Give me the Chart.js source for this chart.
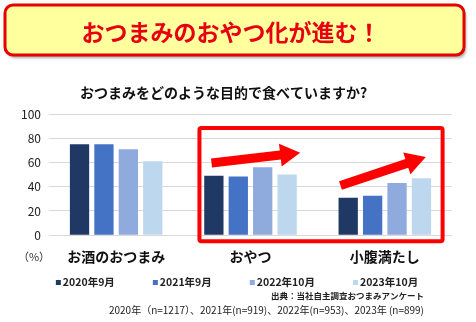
<!DOCTYPE html>
<html lang="ja">
<head>
<meta charset="utf-8">
<title>おつまみのおやつ化が進む！</title>
<script src="https://cdn.jsdelivr.net/npm/chart.js@4.4.1/dist/chart.umd.min.js"></script>
<style>
  html, body { margin: 0; padding: 0; background: #fff; }
  #wrap { position: relative; width: 476px; height: 322px; }
</style>
</head>
<body>
<div id="wrap"><canvas id="snackChart" width="476" height="322"></canvas></div>
<script>
// おつまみを食べる目的（調査年別, %）
const categories = ['お酒のおつまみ', 'おやつ', '小腹満たし'];
const seriesLabels = ['2020年9月', '2021年9月', '2022年10月', '2023年10月'];
const values2020 = [75, 49, 31];
const values2021 = [75, 48.5, 32.5];
const values2022 = [71, 56, 43];
const values2023 = [61, 50, 47];
const seriesColors = ['#203864', '#4472C4', '#8FAADC', '#BDD7EE'];

const headline = 'おつまみのおやつ化が進む！';
const question = 'おつまみをどのような目的で食べていますか?';
const sourceNote = '出典：当社自主調査おつまみアンケート';
const sampleNote = '2020年（n=1217）、2021年(n=919)、2022年(n=953)、2023年 (n=899)';

const JP = '"Noto Sans CJK JP", "Noto Sans", sans-serif';

// 矢印（カテゴリ位置 + ずれ, 値）
const trendArrows = [
    { from: [1, -0.29, 59.5], to: [1, 0.37, 68] },
    { from: [2, -0.33, 41], to: [2, 0.305, 64.5] }
];

const drawArrow = (ctx, x0, y0, x1, y1) => {
    const shaft = 9, headLen = 20, headW = 23;
    const len = Math.hypot(x1 - x0, y1 - y0);
    const ux = (x1 - x0) / len, uy = (y1 - y0) / len;
    const nx = -uy, ny = ux;
    const bx = x1 - ux * headLen, by = y1 - uy * headLen;
    ctx.beginPath();
    ctx.moveTo(x0 + nx * shaft / 2, y0 + ny * shaft / 2);
    ctx.lineTo(bx + nx * shaft / 2, by + ny * shaft / 2);
    ctx.lineTo(bx + nx * headW / 2, by + ny * headW / 2);
    ctx.lineTo(x1, y1);
    ctx.lineTo(bx - nx * headW / 2, by - ny * headW / 2);
    ctx.lineTo(bx - nx * shaft / 2, by - ny * shaft / 2);
    ctx.lineTo(x0 - nx * shaft / 2, y0 - ny * shaft / 2);
    ctx.closePath();
    ctx.fill();
};

const decorations = {
    id: 'decorations',
    afterDraw(chart) {
        const { ctx, scales: { x, y } } = chart;
        const catW = x.getPixelForValue(1) - x.getPixelForValue(0);
        ctx.save();

        // 見出しボックス
        ctx.save();
        ctx.shadowColor = 'rgba(0,0,0,0.35)';
        ctx.shadowOffsetX = 2;
        ctx.shadowOffsetY = 3;
        ctx.shadowBlur = 3;
        ctx.beginPath();
        ctx.roundRect(5, 5, 459, 50, 8);
        ctx.fillStyle = '#FFFF9E';
        ctx.fill();
        ctx.restore();
        ctx.beginPath();
        ctx.roundRect(5, 5, 459, 50, 8);
        ctx.lineWidth = 3;
        ctx.strokeStyle = '#E60000';
        ctx.stroke();
        ctx.fillStyle = '#E60012';
        ctx.font = `bold 23px ${JP}`;
        ctx.textAlign = 'center';
        ctx.textBaseline = 'middle';
        ctx.fillText(headline, 231, 32);

        // 設問
        ctx.fillStyle = '#111';
        ctx.font = `bold 14px ${JP}`;
        ctx.textAlign = 'left';
        ctx.fillText(question, 80, 93);

        // 単位
        ctx.font = `11px ${JP}`;
        ctx.fillStyle = '#333';
        ctx.textAlign = 'center';
        ctx.fillText('（%）', 34, 257);

        // 強調枠
        const left = x.getPixelForValue(1) - 0.38 * catW;
        const right = x.getPixelForValue(2) + 0.43 * catW;
        const top = y.getPixelForValue(88.5);
        const bottom = y.getPixelForValue(-5);
        ctx.strokeStyle = '#FF0000';
        ctx.lineWidth = 4;
        ctx.beginPath();
        ctx.roundRect(left, top, right - left, bottom - top, 2);
        ctx.stroke();

        // 増加矢印
        ctx.fillStyle = '#FF0000';
        trendArrows.forEach(a => {
            const x0 = x.getPixelForValue(a.from[0]) + a.from[1] * catW;
            const y0 = y.getPixelForValue(a.from[2]);
            const x1 = x.getPixelForValue(a.to[0]) + a.to[1] * catW;
            const y1 = y.getPixelForValue(a.to[2]);
            drawArrow(ctx, x0, y0, x1, y1);
        });

        // 凡例
        ctx.font = `bold 10.5px ${JP}`;
        ctx.textAlign = 'left';
        const gap = 38;
        const items = chart.data.datasets.map(ds => ({
            label: ds.label, color: ds.backgroundColor, w: 7 + ctx.measureText(ds.label).width
        }));
        const total = items.reduce((s, it) => s + it.w, 0) + gap * (items.length - 1);
        let lx = 237 - total / 2;
        items.forEach(it => {
            ctx.fillStyle = it.color;
            ctx.fillRect(lx, 280, 5, 5);
            ctx.fillStyle = '#222';
            ctx.fillText(it.label, lx + 7, 282.5);
            lx += it.w + gap;
        });

        // 出典
        ctx.textAlign = 'right';
        ctx.fillStyle = '#222';
        ctx.font = `bold 8.5px ${JP}`;
        ctx.fillText(sourceNote, 424, 296);
        ctx.font = `10px ${JP}`;
        ctx.fillText(sampleNote, 424, 310);

        ctx.restore();
    }
};

const ctx = document.getElementById('snackChart').getContext('2d');
new Chart(ctx, {
    type: 'bar',
    data: {
        labels: categories,
        datasets: [values2020, values2021, values2022, values2023].map((vals, i) => ({
            label: seriesLabels[i],
            data: vals,
            backgroundColor: seriesColors[i],
            categoryPercentage: 0.727,
            barPercentage: 0.79
        }))
    },
    options: {
        responsive: false,
        animation: false,
        layout: { padding: { top: 114, left: 13, right: 24, bottom: 44 } },
        plugins: {
            legend: { display: false },
            tooltip: { enabled: false }
        },
        scales: {
            x: {
                grid: { display: false, drawTicks: false },
                border: { display: false },
                ticks: { color: '#111', padding: 13, font: { family: JP, size: 14, weight: 'bold' } }
            },
            y: {
                min: 0,
                max: 100,
                ticks: { stepSize: 20, color: '#222', padding: 8, font: { family: JP, size: 12 } },
                grid: { color: '#D9D9D9', lineWidth: 1, drawTicks: false },
                border: { display: false }
            }
        }
    },
    plugins: [decorations]
});
</script>
</body>
</html>
